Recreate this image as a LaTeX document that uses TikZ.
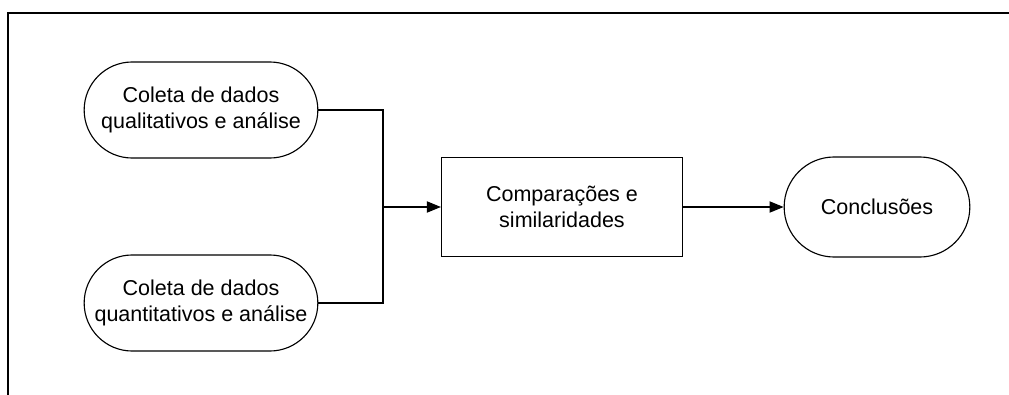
\documentclass[tikz,border=0pt]{standalone}
\usepackage{fontspec}
\setmainfont{Liberation Sans}
\usetikzlibrary{arrows.meta,shapes.misc}

\begin{document}
\begin{tikzpicture}[x=0.025cm,y=-0.025cm,>={Triangle[length=10pt,width=8pt]},line width=0.8pt,
  pill/.style={rounded rectangle,draw,minimum width=6.075cm,minimum height=2.4cm,align=center,
    font=\fontsize{15.3}{19}\selectfont},
  stepbox/.style={rectangle,draw,minimum width=6.025cm,minimum height=2.475cm,align=center,
    font=\fontsize{15.3}{19}\selectfont}]
  \useasboundingbox (0,0) rectangle (1009,395);
  % frame
  \draw[line width=1.2pt] (8,395) -- (8,13) -- (1009,13);

  \node[pill] (qual) at (201,110) {Coleta de dados\\qualitativos e análise};
  \node[pill] (quant) at (201,303) {Coleta de dados\\quantitativos e análise};
  \node[stepbox] (comp) at (562,207) {Comparações e\\similaridades};
  \node[pill,minimum width=4.875cm,minimum height=2.5cm] (concl) at (877,207) {Conclusões};
  \coordinate (junc) at (383,207);

  \draw (qual.east) -| (junc) |- (quant.east);
  \draw[->] (junc) -- (comp.west);
  \draw[->] (comp) -- (concl);
\end{tikzpicture}
\end{document}
